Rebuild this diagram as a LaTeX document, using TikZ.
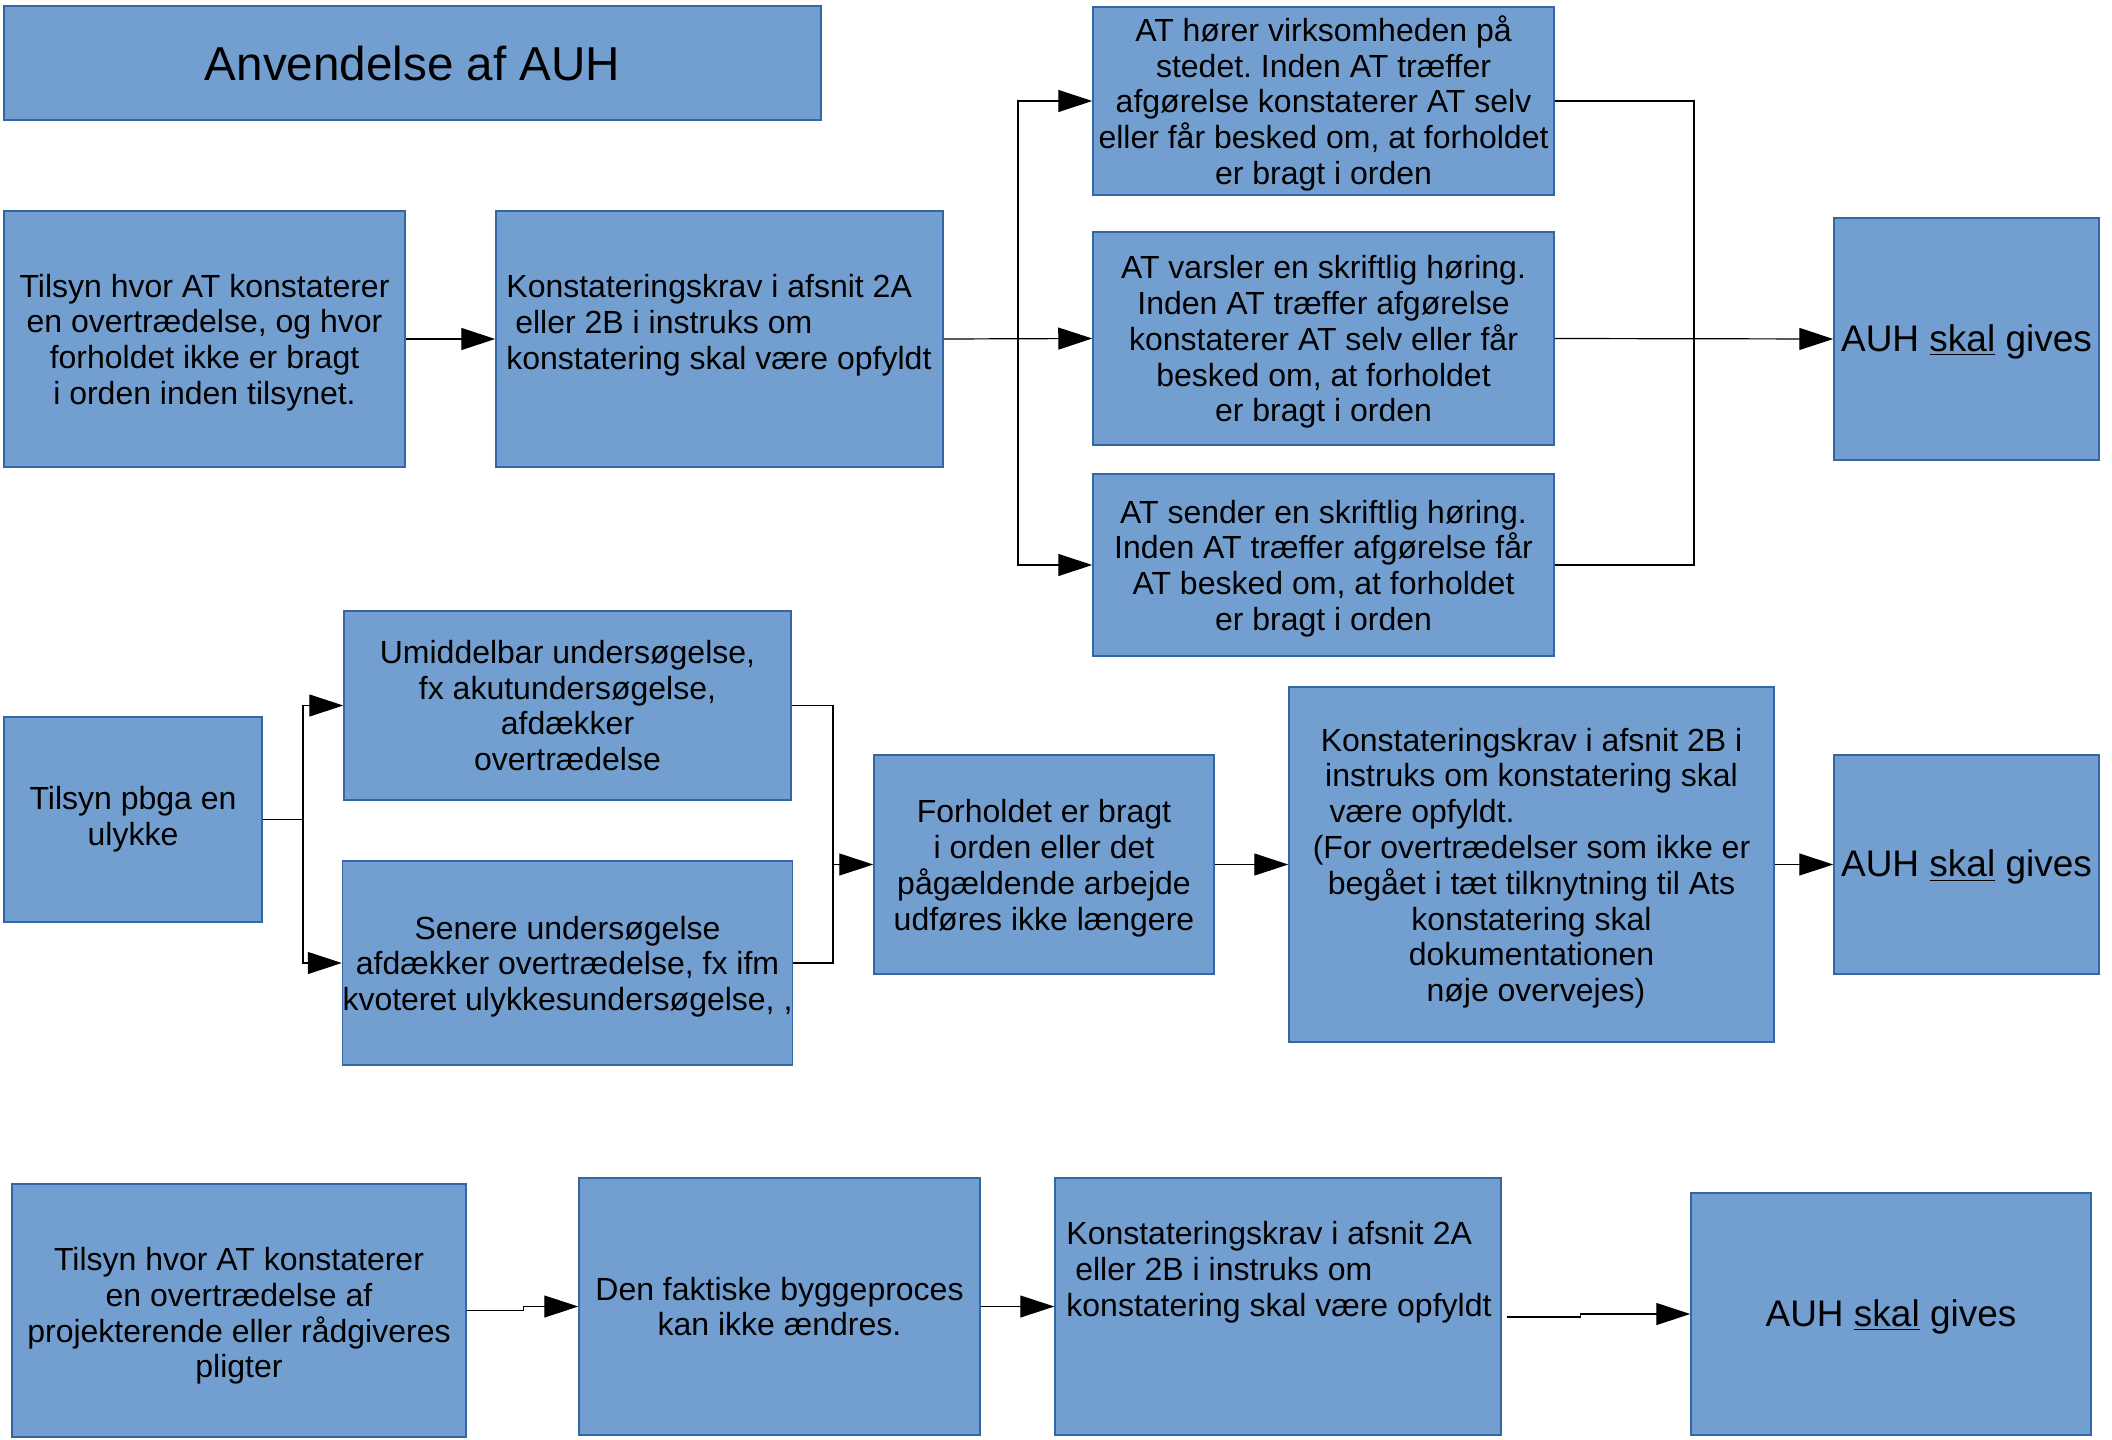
\documentclass[tikz,border=0pt]{standalone}
\usepackage{fontspec}
\setmainfont{Liberation Sans}
\usetikzlibrary{arrows.meta,calc}
\definecolor{boxfill}{HTML}{729FCF}
\definecolor{boxline}{HTML}{3465A4}
\frenchspacing
\newcommand{\ts}{\rule{0pt}{0.95em}}
\newcommand{\tsh}{\rule{0pt}{0.88em}}
\newcommand{\auhtext}{\tsh AUH \underline{skal} gives}
\begin{document}
\begin{tikzpicture}[x=0.5pt,y=-0.5pt,
  base/.style={draw=boxline,fill=boxfill,line width=0.75pt,inner sep=0pt,align=center,font=\fontsize{16}{17.9}\selectfont},
  bbox/.style={base},
  txt/.style={inner sep=0pt,font=\fontsize{16}{17.9}\selectfont},
  auh/.style={base,font=\fontsize{18.5}{21}\selectfont},
  conn/.style={line width=0.6pt,black},
  arr/.style={conn,-{Triangle[length=17pt,width=11pt]}}]
\useasboundingbox (0,0) rectangle (2112,1439);
\fill[white] (0,0) rectangle (2112,1439);

% title
\node[base,minimum width=408.5pt,minimum height=57pt,font=\fontsize{23.8}{28}\selectfont] (title) at (412.5,63) {Anvendelse af AUH};

% top row
\node[bbox,minimum width=200.5pt,minimum height=128pt] (b1) at (204.5,339)
  {\ts Tilsyn hvor AT konstaterer\\en overtrædelse, og hvor\\forholdet ikke er bragt\\i orden inden tilsynet.};
\node[base,minimum width=223.5pt,minimum height=128pt] (b2) at (719.5,339) {};
\node[txt,align=left,anchor=west] (b2t) at (506,325)
  {Konstateringskrav i afsnit 2A\\\hspace*{.278em}eller 2B i instruks om\\konstatering skal være opfyldt};
\node[bbox,minimum width=230.5pt,minimum height=94pt] (t1) at (1323.5,101)
  {\ts AT hører virksomheden på\\stedet. Inden AT træffer\\afgørelse konstaterer AT selv\\eller får besked om, at forholdet\\er bragt i orden};
\node[bbox,minimum width=230.5pt,minimum height=106.5pt] (t2) at (1323.5,338.5)
  {\ts AT varsler en skriftlig høring.\\Inden AT træffer afgørelse\\konstaterer AT selv eller får\\besked om, at forholdet\\er bragt i orden};
\node[bbox,minimum width=230.5pt,minimum height=91pt] (t3) at (1323.5,565)
  {\ts AT sender en skriftlig høring.\\Inden AT træffer afgørelse får\\AT besked om, at forholdet\\er bragt i orden};
\node[auh,minimum width=132.5pt,minimum height=121pt] (auh1) at (1966.5,339) {\auhtext};

% middle row
\node[bbox,minimum width=129pt,minimum height=102.5pt] (u1) at (133,819.5) {Tilsyn pbga en\\ulykke};
\node[bbox,minimum width=223.5pt,minimum height=94.5pt] (m1) at (567.5,705.5)
  {Umiddelbar undersøgelse,\\fx akutundersøgelse,\\afdækker\\overtrædelse};
\node[bbox,minimum width=223.5pt,minimum height=102pt] (m2) at (567.5,963)
  {\ts Senere undersøgelse\\afdækker overtrædelse, fx ifm\\kvoteret ulykkesundersøgelse, ,};
\node[bbox,minimum width=170pt,minimum height=109.5pt] (f) at (1044,864.5)
  {\ts Forholdet er bragt\\i orden eller det\\pågældende arbejde\\udføres ikke længere};
\node[bbox,minimum width=242.5pt,minimum height=177.5pt] (k) at (1531.5,864.5)
  {\ts Konstateringskrav i afsnit 2B i\\instruks om konstatering skal\\\rlap{\ være opfyldt.}\phantom{Konstateringskrav i afsnit 2B i}\\(For overtrædelser som ikke er\\begået i tæt tilknytning til Ats\\konstatering skal\\dokumentationen\\\hspace*{.278em}nøje overvejes)};
\node[auh,minimum width=132.5pt,minimum height=109.5pt] (auh2) at (1966.5,864.5) {\auhtext};

% bottom row
\node[base,minimum width=227pt,minimum height=126.5pt] (l1) at (239,1310.5) {};
\node[txt,align=center] (l1t) at (239,1316)
  {Tilsyn hvor AT konstaterer\\en overtrædelse af\\projekterende eller rådgiveres\\pligter};
\node[bbox,minimum width=200.5pt,minimum height=128.5pt] (l2) at (779.5,1306.5)
  {Den faktiske byggeproces\\kan ikke ændres.};
\node[base,minimum width=223pt,minimum height=128.5pt] (l3) at (1278,1306.5) {};
\node[txt,align=left,anchor=west] (l3t) at (1066,1272)
  {Konstateringskrav i afsnit 2A\\\hspace*{.278em}eller 2B i instruks om\\konstatering skal være opfyldt};
\node[auh,minimum width=200pt,minimum height=121pt] (auh3) at (1891,1314) {\auhtext};

% connectors top
\draw[arr] (b1.east) -- (b2.west);
\coordinate (jl) at (1018,339);
\draw[arr] (b2.east) -- (t2.west);
\draw[arr] (jl) |- (t1.west);
\draw[arr] (jl) |- (t3.west);
\coordinate (jr) at (1694,339);
\draw[conn] (t1.east) -| (jr);
\draw[conn] (t3.east) -| (jr);
\draw[arr] (t2.east) -- (auh1.west);

% connectors middle
\coordinate (jm1) at (303,819.5);
\draw[conn] (u1.east) -- (jm1);
\draw[arr] (jm1) |- (m1.west);
\draw[arr] (jm1) |- (m2.west);
\coordinate (jm2) at (833,864.5);
\draw[conn] (m1.east) -| (jm2);
\draw[conn] (m2.east) -| (jm2);
\draw[arr] (jm2) -- (f.west);
\draw[arr] (f.east) -- (k.west);
\draw[arr] (k.east) -- (auh2.west);

% connectors bottom
\draw[arr] (l1.east) -- ++(57,0) |- (l2.west);
\draw[arr] (l2.east) -- (l3.west);
\draw[arr] ($(l3.east)+(5,10.5)$) -- ++(74,0) |- (auh3.west);
\end{tikzpicture}
\end{document}
